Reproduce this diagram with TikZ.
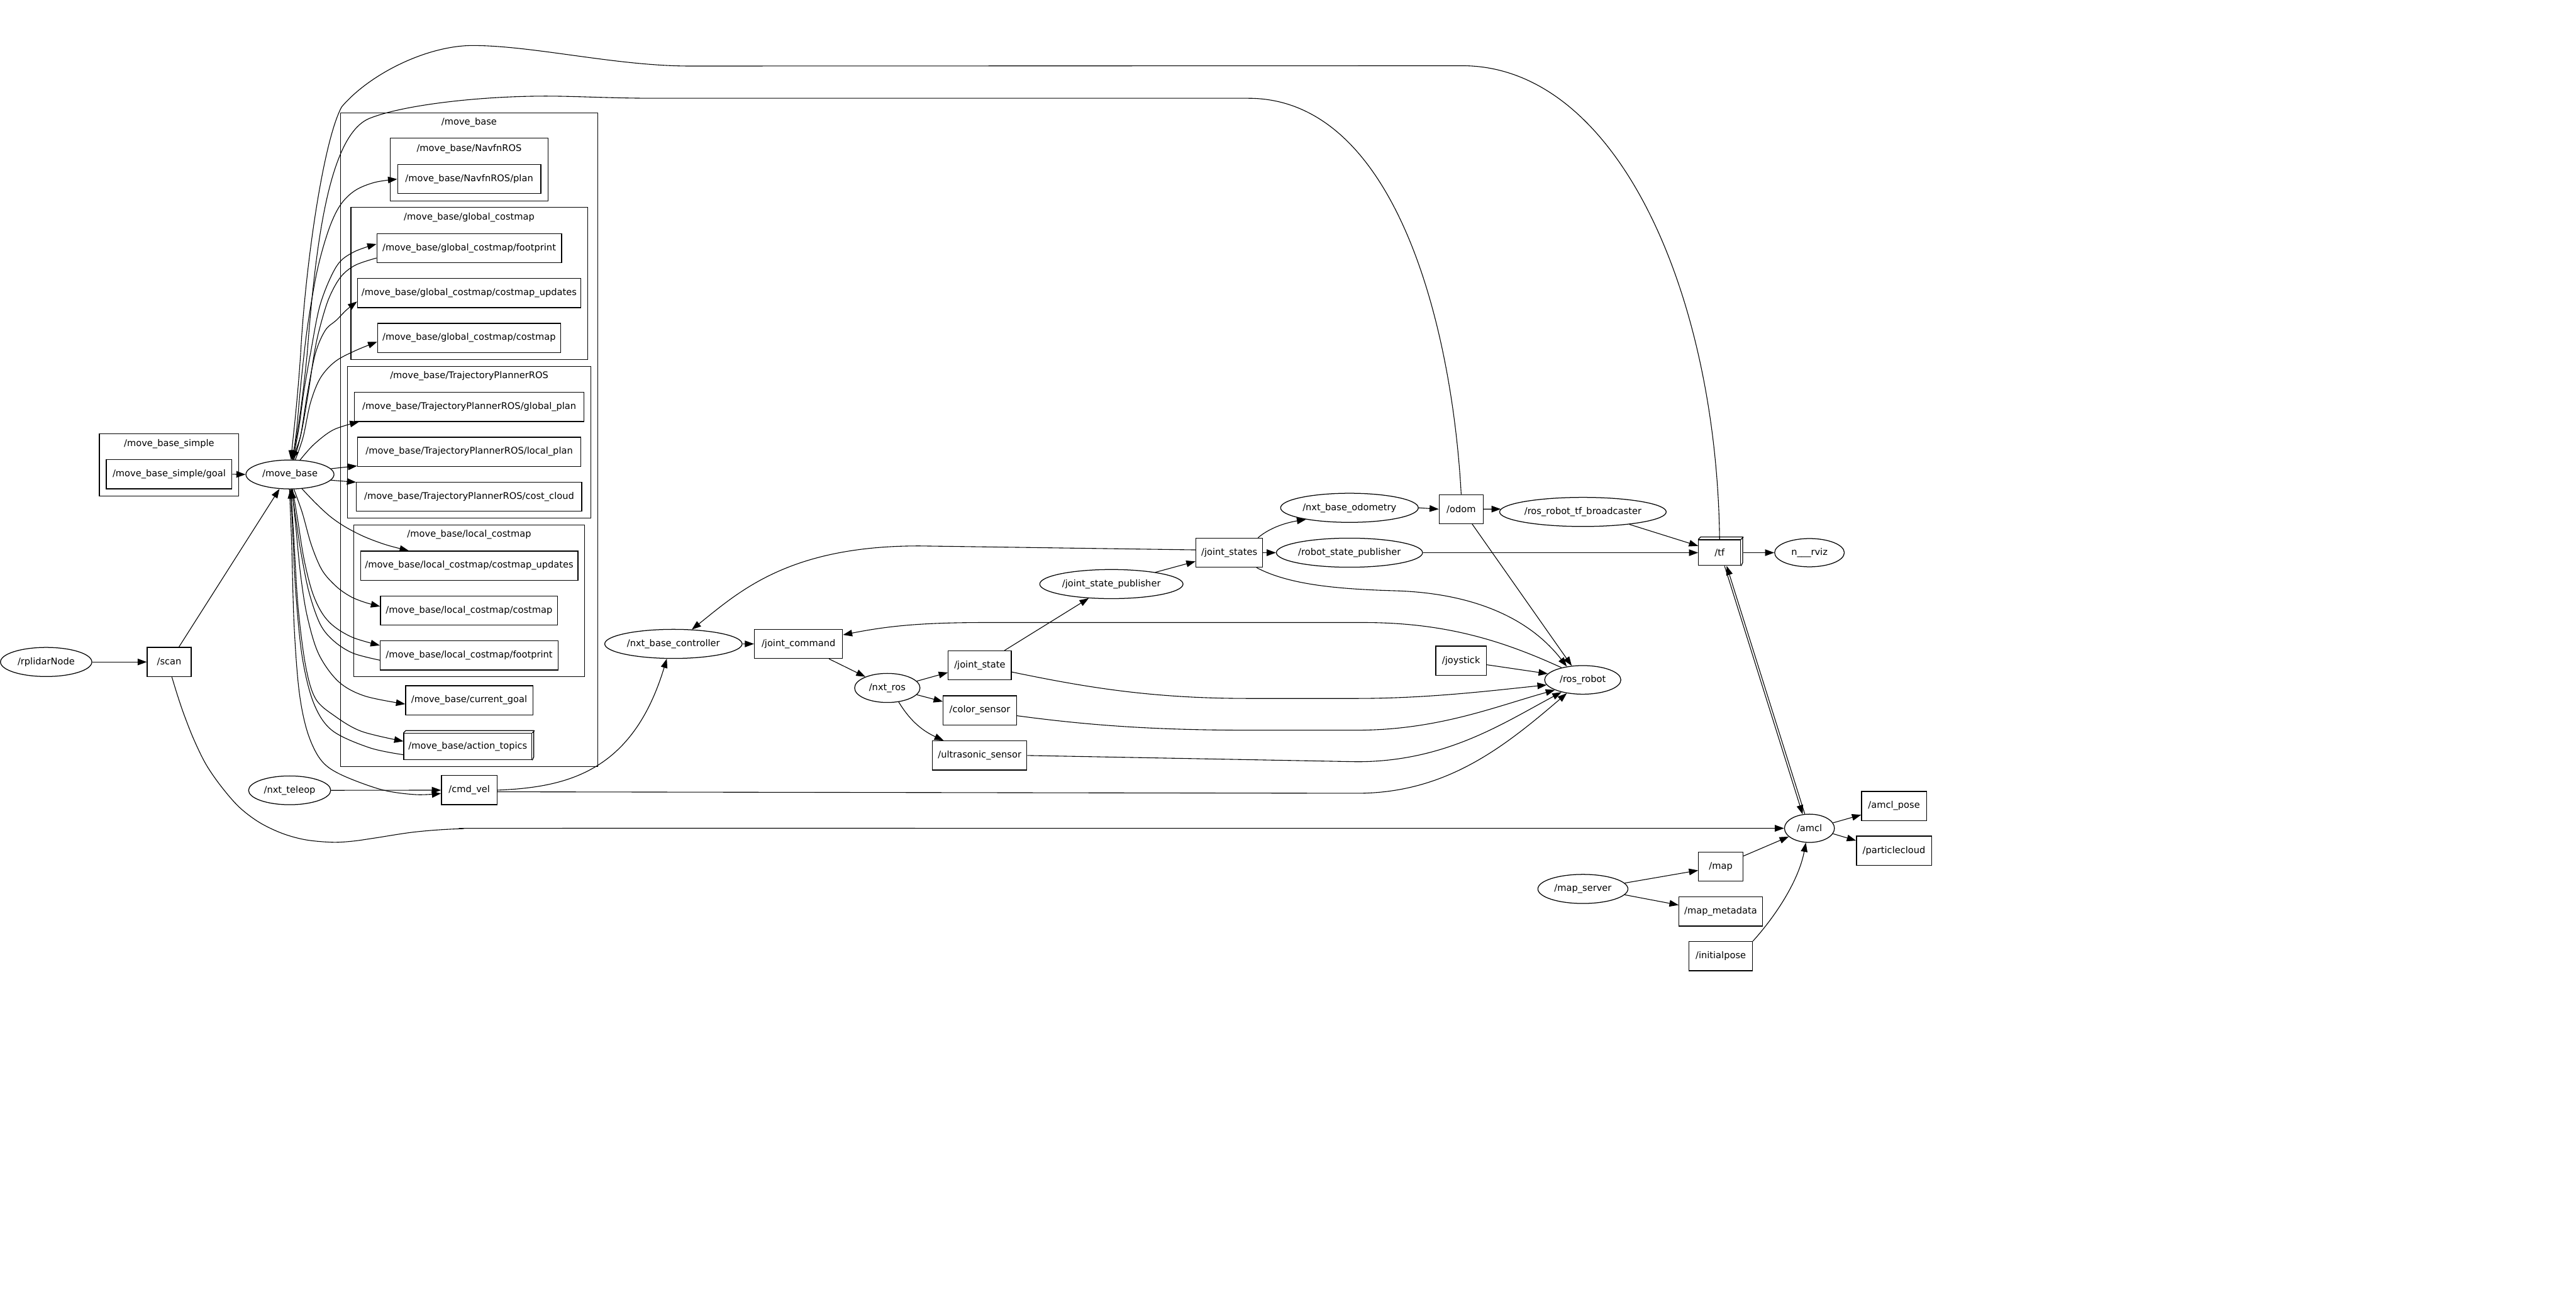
\documentclass[tikz,border=0pt]{standalone}
\usepackage{fontspec}
\setmainfont{DejaVu Sans}
\usetikzlibrary{shapes.geometric,arrows.meta}
\begin{document}
\begin{tikzpicture}[x=1pt,y=-1pt,
  every node/.append style={font=\fontsize{5.6}{6.7}\selectfont},
  topic/.style={draw, rectangle, minimum height=17.7pt, inner sep=0pt, line width=0.48pt},
  rnode/.style={draw, ellipse, minimum height=17.7pt, inner sep=0pt, line width=0.48pt},
  clus/.style={draw, rectangle, inner sep=0pt, line width=0.42pt},
  arr/.style={line width=0.42pt, -{Triangle[length=5.6pt,width=4pt]}},
  sm/.style={smooth, tension=0.55}]
\fill[white] (0,0) rectangle (1568,788.3);
\useasboundingbox (0,0) rectangle (1568,788.3);

% ---------------- clusters
\node[clus, minimum width=84.9pt, minimum height=38pt] (clMBS) at (102.95,282.8) {};
\node (clMBSl) at (102.95,270) {/move\_base\_simple};
\node[clus, minimum width=156.3pt, minimum height=397.85pt] (clMB) at (285.55,267.58) {};
\node (clMBl) at (285.55,74.5) {/move\_base};
\node[clus, minimum width=95.9pt, minimum height=38pt] (clNav) at (285.55,103.2) {};
\node (clNavl) at (285.55,90.5) {/move\_base/NavfnROS};
\node[clus, minimum width=144pt, minimum height=92.4pt] (clGC) at (285.6,172.5) {};
\node (clGCl) at (285.6,132.4) {/move\_base/global\_costmap};
\node[clus, minimum width=148.4pt, minimum height=92.4pt] (clTP) at (285.6,269.1) {};
\node (clTPl) at (285.6,228.8) {/move\_base/TrajectoryPlannerROS};
\node[clus, minimum width=140.6pt, minimum height=92.4pt] (clLC) at (285.6,365.6) {};
\node (clLCl) at (285.6,325.3) {/move\_base/local\_costmap};

% ---------------- topics
\node[topic, minimum width=76.5pt] (goal) at (102.95,288.6) {/move\_base\_simple/goal};
\node[topic, minimum width=26.8pt] (scan) at (103,402.8) {/scan};
\node[topic, minimum width=87.2pt] (plan) at (285.6,109) {/move\_base/NavfnROS/plan};
\node[topic, minimum width=112.4pt] (gfoot) at (285.6,151) {/move\_base/global\_costmap/footprint};
\node[topic, minimum width=135.9pt] (gupd) at (285.55,178.3) {/move\_base/global\_costmap/costmap\_updates};
\node[topic, minimum width=111.5pt] (gcost) at (285.55,205.6) {/move\_base/global\_costmap/costmap};
\node[topic, minimum width=139.7pt] (gplan) at (285.65,247.6) {/move\_base/TrajectoryPlannerROS/global\_plan};
\node[topic, minimum width=136pt] (lplan) at (285.6,274.9) {/move\_base/TrajectoryPlannerROS/local\_plan};
\node[topic, minimum width=137.1pt] (ccloud) at (285.55,302.2) {/move\_base/TrajectoryPlannerROS/cost\_cloud};
\node[topic, minimum width=132.4pt] (lupd) at (285.6,344.2) {/move\_base/local\_costmap/costmap\_updates};
\node[topic, minimum width=107.9pt] (lcost) at (285.55,371.5) {/move\_base/local\_costmap/costmap};
\node[topic, minimum width=108.4pt] (lfoot) at (285.6,398.8) {/move\_base/local\_costmap/footprint};
\node[topic, minimum width=77.4pt] (cgoal) at (285.6,426.1) {/move\_base/current\_goal};
\node[topic, minimum width=77.9pt, minimum height=16.1pt] (atop) at (284.75,454.25) {/move\_base/action\_topics};
\draw[line width=0.48pt] (atop.north west) -- ++(1.4,-1.4) -- ++(77.9,0) -- ++(0,16.1) -- (atop.south east)
  (atop.north east) -- ++(1.4,-1.4);
\node[topic, minimum width=33.9pt] (cmdvel) at (285.65,480.8) {/cmd\_vel};
\node[topic, minimum width=53.7pt] (jcmd) at (486.05,391.8) {/joint\_command};
\node[topic, minimum width=38.4pt] (jstate) at (596.4,404.9) {/joint\_state};
\node[topic, minimum width=44.6pt] (color) at (596.4,432.2) {/color\_sensor};
\node[topic, minimum width=57.4pt] (ultra) at (596.3,459.7) {/ultrasonic\_sensor};
\node[topic, minimum width=40.7pt] (jstates) at (748.25,336.3) {/joint\_states};
\node[topic, minimum width=26.8pt] (odom) at (889.4,309.8) {/odom};
\node[topic, minimum width=30.9pt] (joystick) at (889.35,402) {/joystick};
\node[topic, minimum width=25.6pt, minimum height=15.6pt] (tf) at (1046.7,336.3) {/tf};
\draw[line width=0.48pt] (tf.north west) -- ++(1.5,-1.5) -- ++(25.6,0) -- ++(0,15.6) -- (tf.south east)
  (tf.north east) -- ++(1.5,-1.5);
\node[topic, minimum width=39.5pt] (apose) at (1152.85,490.4) {/amcl\_pose};
\node[topic, minimum width=45.7pt] (pcloud) at (1152.85,517.6) {/particlecloud};
\node[topic, minimum width=27pt] (map) at (1047.4,527.3) {/map};
\node[topic, minimum width=50.7pt] (mdata) at (1047.35,554.6) {/map\_metadata};
\node[topic, minimum width=38.6pt] (ipose) at (1047.4,581.8) {/initialpose};

% ---------------- ROS nodes
\node[rnode, minimum width=55.6pt] (rplidar) at (28.1,402.8) {/rplidarNode};
\node[rnode, minimum width=53.6pt, minimum height=17.6pt] (mb) at (176.5,288.7) {/move\_base};
\node[rnode, minimum width=50pt, minimum height=17.5pt] (teleop) at (176.3,480.9) {/nxt\_teleop};
\node[rnode, minimum width=83.6pt] (nbc) at (409.9,391.8) {/nxt\_base\_controller};
\node[rnode, minimum width=39.8pt] (nxtros) at (540.1,418.6) {/nxt\_ros};
\node[rnode, minimum width=87.2pt] (jsp) at (676.5,355.4) {/joint\_state\_publisher};
\node[rnode, minimum width=83.8pt] (nbo) at (821.4,309) {/nxt\_base\_odometry};
\node[rnode, minimum width=89pt] (rsp) at (821.4,336.3) {/robot\_state\_publisher};
\node[rnode, minimum width=101.4pt] (rtb) at (963.5,311.5) {/ros\_robot\_tf\_broadcaster};
\node[rnode, minimum width=46.4pt, minimum height=17.4pt] (ros) at (963.4,413.7) {/ros\_robot};
\node[rnode, minimum width=42.4pt, minimum height=17.2pt] (rviz) at (1101.4,336.3) {n\_\_\_rviz};
\node[rnode, minimum width=30.4pt, minimum height=17.2pt] (amcl) at (1101.4,504) {/amcl};
\node[rnode, minimum width=54.8pt] (mserver) at (963.5,540.9) {/map\_server};

% ---------------- long curves into /move_base
\draw[arr] (tf.north) .. controls (1045,180) and (985,40) .. (890,40) -- (420,40.2)
  .. controls (375,40.2) and (325,27.8) .. (288,27.7)
  .. controls (260,27.6) and (225,45) .. (208,65)
  .. controls (197,85) and (186,160) .. (183,215)
  .. controls (181,245) and (178.5,265) .. (mb.86);
\draw[arr] (odom.north) .. controls (884,200) and (850,60) .. (760,59.8) -- (400,59.8)
  .. controls (370,59.8) and (350,58.4) .. (330,58.5)
  .. controls (290,58.7) and (245,64) .. (225,72)
  .. controls (200,82) and (192,150) .. (187,215)
  .. controls (184,245) and (181,265) .. (mb.84);

% ---------------- /move_base fan
\draw[arr] plot[sm] coordinates {(mb.80) (180.5,262) (183,235) (187,200) (193,165) (200,140) (207,125) (216,116) (228,111) (plan.west)};
\draw[arr] plot[sm] coordinates {(mb.78) (182,260) (185,238) (189,215) (195,185) (204.8,162.1) (215,153.5) ([yshift=2.5pt]gfoot.west)};
\draw[arr] plot[sm] coordinates {([yshift=-6pt]gfoot.west) (216,161.5) (207.1,168.9) (200,182) (194.5,200) (191.3,215) (187.5,240) (183,265) (mb.82)};
\draw[arr] plot[sm] coordinates {(mb.75) (183,265) (187,240) (192,215) (198,201) (204.8,194.8) (211,188.5) ([yshift=-5.2pt]gupd.west)};
\draw[arr] plot[sm] coordinates {(mb.70) (184.5,266) (189,245) (195,230) (204,220) (216,213.5) ([yshift=-2.4pt]gcost.west)};
\draw[arr] plot[sm] coordinates {(mb.55) (191,270.5) (203,261.5) ([xshift=3pt]gplan.south west)};
\draw[arr] (mb.8) -- ([yshift=0.5pt]lplan.south west);
\draw[arr] (mb.-8) -- ([yshift=-0.3pt]ccloud.north west);
\draw[arr] plot[sm] coordinates {(mb.-50) (192,306) (200.9,314.2) (210,320.5) (221.6,326.5) (235,331.5) ([xshift=29.7pt]lupd.north west)};
\draw[arr] plot[sm] coordinates {(mb.-75) (184,312) (189,330) (194,343) (198.4,350.3) (206,358) (213.8,363.2) (222,366.5) ([yshift=2.5pt]lcost.west)};
\draw[arr] plot[sm] coordinates {(mb.-80) (181,315) (185,340) (190,360) (196,373) (203.5,381.3) (215,388) ([yshift=6.1pt]lfoot.west)};
\draw[arr] plot[sm] coordinates {([yshift=-2.9pt]lfoot.west) (215,397.5) (203.5,390.3) (195,380) (188,360) (183,335) (180,315) (mb.-84)};
\draw[arr] plot[sm] coordinates {(mb.-82) (180,320) (183,350) (187,375) (194,398) (206.1,414.8) (222,423.5) ([yshift=-2.3pt]cgoal.west)};
\draw[arr] plot[sm] coordinates {(mb.-86) (179,330) (181.5,370) (186,405) (192,425) (203.5,435.5) (220,445) ([yshift=3.2pt]atop.west)};
\draw[arr] plot[sm] coordinates {([yshift=-5pt]atop.west) (225,455) (202.2,444.5) (191,428) (184,400) (180,360) (178,320) (mb.-88)};
\draw[arr] plot[sm] coordinates {(mb.-92) (177.5,330) (179,380) (182,420) (187,445) (195,462) (206.8,471) (231.9,480.4) (252.9,483.5) ([yshift=-2pt]cmdvel.west)};
\draw[arr] ([xshift=5.9pt]scan.north) -- (mb.-126);
\draw[arr] (goal.east) -- (mb.west);
\draw[arr] (rplidar.east) -- (scan.west);
\draw[arr] (teleop.east) -- (cmdvel.west);

% ---------------- robot side
\draw[arr] (cmdvel.east) .. controls (345,479) and (385,470) .. (nbc.-114);
\draw[arr] ([yshift=-1pt]cmdvel.east) -- (825.9,482.7) .. controls (880,482.7) and (915,455) .. (ros.-140);
\draw[arr] (ultra.east) -- (825.9,463.5) .. controls (880,463.5) and (915,440) .. (ros.-150);
\draw[arr] ([yshift=-3.3pt]color.east) .. controls (660,441) and (700,444.3) .. (760,444.3) -- (825.9,444.3) .. controls (875,444.3) and (910,430) .. (ros.-160);
\draw[arr] ([yshift=-4pt]jstate.east) .. controls (660,418) and (700,425) .. (760,425) -- (825.9,425) .. controls (870,425) and (910,420) .. (ros.-172);
\draw[arr] ([yshift=-2.5pt]joystick.east) -- (ros.170);
\draw[arr] ([xshift=-4pt]jstates.south east) .. controls (785,356) and (815,358.5) .. (850,359.5) .. controls (895,361) and (930,375) .. (ros.140);
\draw[arr] ([xshift=6.7pt]odom.south) -- (ros.128);
\draw[arr] (ros.150) .. controls (915,390) and (880,378.8) .. (830,378.8) -- (600,378.8) .. controls (560,378.8) and (540,381) .. ([yshift=5.5pt]jcmd.east);
\draw[arr] ([yshift=1.7pt]jstates.west) -- (560,332.2) .. controls (480,332) and (450,360) .. (nbc.38);
\draw[arr] (nbc.east) -- (jcmd.west);
\draw[arr] ([xshift=18.5pt]jcmd.south) -- (nxtros.153);
\draw[arr] (nxtros.13) -- ([yshift=-4.3pt]jstate.west);
\draw[arr] (nxtros.-13) -- ([yshift=5.3pt]color.west);
\draw[arr] (nxtros.-51) .. controls (553,437) and (560,444) .. ([xshift=7pt]ultra.north west);
\draw[arr] ([xshift=15pt]jstate.north) -- (jsp.-148);
\draw[arr] (jsp.15) -- ([yshift=-5.3pt]jstates.west);
\draw[arr] ([xshift=-3.1pt]jstates.north east) .. controls (773,321) and (783,318) .. (nbo.-165);
\draw[arr] (jstates.east) -- (rsp.west);
\draw[arr] (nbo.east) -- (odom.west);
\draw[arr] (odom.east) -- (rtb.178);
\draw[arr] (rtb.-15) -- ([yshift=4.1pt]tf.west);
\draw[arr] (rsp.east) -- (tf.west);
\draw[arr] ([xshift=1.5pt]tf.east) -- (rviz.west);
\draw[arr] ([xshift=3pt]tf.south) -- (amcl.116);
\draw[arr] (amcl.108) -- ([xshift=4.3pt]tf.south);

% ---------------- localisation
\draw[arr] plot[sm] coordinates {([xshift=1.6pt]scan.south) (108,423) (112,434.8) (118,450) (125.5,465.3) (135,479) (145.8,491.3) (158,500.5) (171.8,507.1) (186,511) (202.3,512.5) (215,511.8) (228.3,509.9) (252.9,506.2) (280,504.3) (320,504) (700,504) (amcl.west)};
\draw[arr] ([yshift=6.4pt]map.east) -- (amcl.-158);
\draw[arr] (ipose.north east) .. controls (1082,556) and (1095,535) .. (amcl.-104);
\draw[arr] (amcl.13) -- ([yshift=-5.4pt]apose.west);
\draw[arr] (amcl.-13) -- ([yshift=6.1pt]pcloud.west);
\draw[arr] (mserver.8) -- ([yshift=-2.3pt]map.west);
\draw[arr] (mserver.-8) -- ([yshift=3.9pt]mdata.west);
\end{tikzpicture}
\end{document}
